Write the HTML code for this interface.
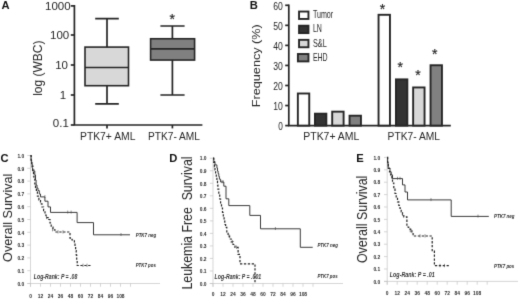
<!DOCTYPE html>
<html><head><meta charset="utf-8"><title>Figure</title>
<style>
html,body{margin:0;padding:0;background:#fff;}
body{width:520px;height:299px;overflow:hidden;}
svg{display:block;font-family:"Liberation Sans",sans-serif;}
.ax{stroke:#262626;stroke-width:1.7;fill:none;}
.bx{stroke:#262626;stroke-width:1.6;}
.t{fill:#262626;}
.pl{font-weight:bold;font-size:11.2px;fill:#111;}
.km{font-size:4.9px;font-weight:bold;fill:#2a2a2a;}
.kl{font-size:5px;font-weight:bold;font-style:italic;fill:#2a2a2a;}
.lr{font-size:6.8px;font-style:italic;font-weight:bold;fill:#333;}
.ka{stroke:#c4c4c4;stroke-width:0.7;fill:none;}
.so{stroke:#303030;stroke-width:0.95;fill:none;stroke-linejoin:miter;}
.da{stroke:#222;stroke-width:1.2;fill:none;stroke-dasharray:2.3 1.6;}
.ce{stroke:#444;stroke-width:0.6;fill:none;}
</style></head><body>
<svg width="520" height="299" viewBox="0 0 520 299">
<defs><filter id="sf" x="0" y="0" width="100%" height="100%" color-interpolation-filters="sRGB"><feConvolveMatrix order="3" kernelMatrix="0.011 0.084 0.011 0.084 0.62 0.084 0.011 0.084 0.011" divisor="1" edgeMode="duplicate" preserveAlpha="false"/></filter></defs>
<g filter="url(#sf)">
<rect width="520" height="299" fill="#fff"/>

<text class="pl" x="1.6" y="8.8">A</text>
<path class="ax" d="M74.4 5.1V125H202.4"/>
<path class="ax" d="M70.8 5.9H74.4"/>
<path class="ax" d="M70.8 35H74.4"/>
<path class="ax" d="M70.8 65H74.4"/>
<path class="ax" d="M70.8 95H74.4"/>
<path class="ax" d="M70.8 125H74.4"/>
<path class="ax" d="M107 125V128.4"/>
<path class="ax" d="M172.4 125V128.4"/>
<text class="t" font-size="11.5" text-anchor="end" x="70.6" y="9.9">1000</text>
<text class="t" font-size="11.5" text-anchor="end" x="69.2" y="38.8">100</text>
<text class="t" font-size="11.5" text-anchor="end" x="68" y="68.9">10</text>
<text class="t" font-size="11.5" text-anchor="end" x="66.2" y="98.8">1</text>
<text class="t" font-size="11.5" text-anchor="end" x="68.8" y="127">0.1</text>
<text class="t" font-size="12" text-anchor="middle" transform="translate(42.4 68.2) rotate(-90)">log (WBC)</text>
<path class="ax" d="M107 18.7V103.8M95.2 18.7H118.8M95.2 103.8H118.8"/>
<rect class="bx" x="85" y="47.1" width="43.5" height="38.6" fill="#d8d8d8"/>
<path class="ax" d="M85 67.5H128.5"/>
<path class="ax" d="M172.4 26V95M160.4 26H184.6M160.4 95H184.6"/>
<rect class="bx" x="150.6" y="38.75" width="44" height="21.3" fill="#808080"/>
<path class="ax" d="M150.6 48.9H194.6"/>
<text class="t" font-size="14" stroke="#262626" stroke-width="0.2" text-anchor="middle" x="172.3" y="23.8">*</text>
<text class="t" font-size="11" x="80" y="139.9" textLength="55.5" lengthAdjust="spacingAndGlyphs">PTK7+ AML</text>
<text class="t" font-size="11" x="148" y="139.9" textLength="52" lengthAdjust="spacingAndGlyphs">PTK7- AML</text>
<text class="pl" x="249.8" y="8.7">B</text>
<path class="ax" d="M288.8 4.6V125.6H450.8"/>
<path class="ax" d="M285.2 125.6H288.8"/>
<text class="t" font-size="11.6" text-anchor="end" x="282.8" y="129.9" textLength="4.6" lengthAdjust="spacingAndGlyphs">0</text>
<path class="ax" d="M285.2 105.55H288.8"/>
<text class="t" font-size="11.6" text-anchor="end" x="282.8" y="109.85" textLength="9.6" lengthAdjust="spacingAndGlyphs">10</text>
<path class="ax" d="M285.2 85.5H288.8"/>
<text class="t" font-size="11.6" text-anchor="end" x="282.8" y="89.8" textLength="9.6" lengthAdjust="spacingAndGlyphs">20</text>
<path class="ax" d="M285.2 65.45H288.8"/>
<text class="t" font-size="11.6" text-anchor="end" x="282.8" y="69.75" textLength="9.6" lengthAdjust="spacingAndGlyphs">30</text>
<path class="ax" d="M285.2 45.4H288.8"/>
<text class="t" font-size="11.6" text-anchor="end" x="282.8" y="49.7" textLength="9.6" lengthAdjust="spacingAndGlyphs">40</text>
<path class="ax" d="M285.2 25.35H288.8"/>
<text class="t" font-size="11.6" text-anchor="end" x="282.8" y="29.65" textLength="9.6" lengthAdjust="spacingAndGlyphs">50</text>
<path class="ax" d="M285.2 5.3H288.8"/>
<text class="t" font-size="11.6" text-anchor="end" x="282.8" y="9.6" textLength="9.6" lengthAdjust="spacingAndGlyphs">60</text>
<text class="t" font-size="11.3" text-anchor="middle" transform="translate(259.8 65.7) rotate(-90)" textLength="83" lengthAdjust="spacingAndGlyphs">Frequency (%)</text>
<rect x="297.85" y="93.5" width="11.4" height="32.1" fill="#ffffff" stroke="#262626" stroke-width="1.9"/>
<rect x="314.95" y="113.68" width="11.4" height="11.92" fill="#333333" stroke="#262626" stroke-width="1.9"/>
<rect x="332.2" y="111.66" width="11.4" height="13.94" fill="#d8d8d8" stroke="#262626" stroke-width="1.9"/>
<rect x="349.55" y="115.7" width="11.4" height="9.9" fill="#808080" stroke="#262626" stroke-width="1.9"/>
<rect x="378.55" y="14.8" width="11.4" height="110.8" fill="#ffffff" stroke="#262626" stroke-width="1.9"/>
<rect x="395.95" y="79.38" width="11.4" height="46.22" fill="#333333" stroke="#262626" stroke-width="1.9"/>
<rect x="413.15" y="87.45" width="11.4" height="38.15" fill="#d8d8d8" stroke="#262626" stroke-width="1.9"/>
<rect x="430.55" y="65.25" width="11.4" height="60.35" fill="#808080" stroke="#262626" stroke-width="1.9"/>
<text class="t" font-size="14" stroke="#262626" stroke-width="0.2" text-anchor="middle" x="382.4" y="14.1">*</text>
<text class="t" font-size="14" stroke="#262626" stroke-width="0.2" text-anchor="middle" x="400.2" y="72.39999999999999">*</text>
<text class="t" font-size="14" stroke="#262626" stroke-width="0.2" text-anchor="middle" x="417.9" y="80.3">*</text>
<text class="t" font-size="14" stroke="#262626" stroke-width="0.2" text-anchor="middle" x="434.7" y="58.800000000000004">*</text>
<rect x="299.05" y="11.55" width="9.4" height="7.4" fill="#ffffff" stroke="#262626" stroke-width="1.9"/>
<text class="t" font-size="10.4" x="312.9" y="18.3" textLength="20.3" lengthAdjust="spacingAndGlyphs">Tumor</text>
<rect x="299.05" y="25.7" width="9.4" height="7.4" fill="#333333" stroke="#262626" stroke-width="1.9"/>
<text class="t" font-size="10.4" x="312.9" y="32.45" textLength="9.0" lengthAdjust="spacingAndGlyphs">LN</text>
<rect x="299.05" y="39.85" width="9.4" height="7.4" fill="#d8d8d8" stroke="#262626" stroke-width="1.9"/>
<text class="t" font-size="10.4" x="312.9" y="46.6" textLength="13.8" lengthAdjust="spacingAndGlyphs">S&amp;L</text>
<rect x="297.9" y="54.0" width="10.55" height="7.4" fill="#808080" stroke="#262626" stroke-width="1.9"/>
<text class="t" font-size="10.4" x="312.9" y="60.75" textLength="14.8" lengthAdjust="spacingAndGlyphs">EHD</text>
<text class="t" font-size="11" x="303.3" y="139.9" textLength="56" lengthAdjust="spacingAndGlyphs">PTK7+ AML</text>
<text class="t" font-size="11" x="387.6" y="139.9" textLength="52.4" lengthAdjust="spacingAndGlyphs">PTK7- AML</text>
<text class="pl" x="0.5" y="162.1">C</text>
<text class="t" font-size="13.6" text-anchor="middle" transform="translate(12.0 217.8) rotate(-90)" textLength="88.2" lengthAdjust="spacingAndGlyphs" xml:space="preserve">Overall Survival</text>
<path class="ka" d="M30.5 155.0V286.8M27.3 283.5H160"/>
<path class="ka" d="M27.3 155.50H30.5"/>
<text class="km" text-anchor="end" x="24.2" y="157.70">1.0</text>
<path class="ka" d="M27.3 168.30H30.5"/>
<text class="km" text-anchor="end" x="24.2" y="170.50">0.9</text>
<path class="ka" d="M27.3 181.10H30.5"/>
<text class="km" text-anchor="end" x="24.2" y="183.30">0.8</text>
<path class="ka" d="M27.3 193.90H30.5"/>
<text class="km" text-anchor="end" x="24.2" y="196.10">0.7</text>
<path class="ka" d="M27.3 206.70H30.5"/>
<text class="km" text-anchor="end" x="24.2" y="208.90">0.6</text>
<path class="ka" d="M27.3 219.50H30.5"/>
<text class="km" text-anchor="end" x="24.2" y="221.70">0.5</text>
<path class="ka" d="M27.3 232.30H30.5"/>
<text class="km" text-anchor="end" x="24.2" y="234.50">0.4</text>
<path class="ka" d="M27.3 245.10H30.5"/>
<text class="km" text-anchor="end" x="24.2" y="247.30">0.3</text>
<path class="ka" d="M27.3 257.90H30.5"/>
<text class="km" text-anchor="end" x="24.2" y="260.10">0.2</text>
<path class="ka" d="M27.3 270.70H30.5"/>
<text class="km" text-anchor="end" x="24.2" y="272.90">0.1</text>
<path class="ka" d="M27.3 283.50H30.5"/>
<text class="km" text-anchor="end" x="24.2" y="285.70">0.0</text>
<path class="ka" d="M30.50 283.5V286.8"/>
<text class="km" text-anchor="middle" x="30.50" y="297.6">0</text>
<path class="ka" d="M40.50 283.5V286.8"/>
<text class="km" text-anchor="middle" x="40.50" y="297.6">12</text>
<path class="ka" d="M50.50 283.5V286.8"/>
<text class="km" text-anchor="middle" x="50.50" y="297.6">24</text>
<path class="ka" d="M60.50 283.5V286.8"/>
<text class="km" text-anchor="middle" x="60.50" y="297.6">36</text>
<path class="ka" d="M70.50 283.5V286.8"/>
<text class="km" text-anchor="middle" x="70.50" y="297.6">48</text>
<path class="ka" d="M80.50 283.5V286.8"/>
<text class="km" text-anchor="middle" x="80.50" y="297.6">60</text>
<path class="ka" d="M90.50 283.5V286.8"/>
<text class="km" text-anchor="middle" x="90.50" y="297.6">72</text>
<path class="ka" d="M100.50 283.5V286.8"/>
<text class="km" text-anchor="middle" x="100.50" y="297.6">84</text>
<path class="ka" d="M110.50 283.5V286.8"/>
<text class="km" text-anchor="middle" x="110.50" y="297.6">96</text>
<path class="ka" d="M120.50 283.5V286.8"/>
<text class="km" text-anchor="middle" x="120.50" y="297.6">108</text>
<path class="ka" d="M130.50 283.5V286.8"/>
<path class="so" d="M30.5 155.5H31.1V160.0H31.6V164.0H32.2V168.0H32.6V171.0H34.8V175.0H35.5V180.0H36.1V185.0H37.0V188.0H38.0V190.6H39.3V194.0H40.5V196.9H44.9V201.2H48.0V206.9H50.5V212.4H77.1V222.6H93.5V234.8H130.0V234.8"/>
<path class="da" d="M30.5 155.5H31.2V161.0H31.9V166.0H32.9V172.0H33.5V176.0H34.0V179.0H34.8V184.0H35.5V187.5H36.4V192.0H37.4V196.2H38.9V200.0H40.5V203.8H42.0V207.0H43.6V210.6H45.0V215.0H46.1V217.6H48.8V219.5H50.0V223.0H51.2V227.0H53.0V229.8H55.0V232.0H70.0V238.2H72.0V240.0H74.4V242.0H75.0V246.0H75.6V250.5H76.2V255.0H76.7V260.0H77.2V265.5H91.3V265.5"/>
<path class="ce" d="M34 169.2V172.2"/>
<path class="ce" d="M44.9 195.1V198.1"/>
<path class="ce" d="M67.75 210.6V213.6"/>
<path class="ce" d="M71.1 210.6V213.6"/>
<path class="ce" d="M121 233.0V236.0"/>
<path class="ce" d="M46.5 215.79999999999998V219.1"/>
<path class="ce" d="M52.5 228.0V231.3"/>
<path class="ce" d="M58 230.2V233.5"/>
<path class="ce" d="M63 230.2V233.5"/>
<path class="ce" d="M83 263.7V267.0"/>
<path class="ce" d="M87 263.7V267.0"/>
<text class="kl" x="135.7" y="236.6" textLength="20.5" lengthAdjust="spacingAndGlyphs">PTK7 neg</text>
<text class="kl" x="135.7" y="267.4" textLength="20.2" lengthAdjust="spacingAndGlyphs">PTK7 pos</text>
<text class="lr" x="33.8" y="278.8" textLength="43.5" lengthAdjust="spacingAndGlyphs">Log-Rank: P = .08</text>
<text class="pl" x="169.2" y="162.1">D</text>
<text class="t" font-size="14.3" text-anchor="middle" transform="translate(191.5 223) rotate(-90)" textLength="133" lengthAdjust="spacingAndGlyphs" xml:space="preserve">Leukemia Free  Survival</text>
<path class="ka" d="M213 157.75V286.8M209.8 283.5H343"/>
<path class="ka" d="M209.8 158.25H213"/>
<text class="km" text-anchor="end" x="206.5" y="160.45">1.0</text>
<path class="ka" d="M209.8 170.78H213"/>
<text class="km" text-anchor="end" x="206.5" y="172.97">0.9</text>
<path class="ka" d="M209.8 183.30H213"/>
<text class="km" text-anchor="end" x="206.5" y="185.50">0.8</text>
<path class="ka" d="M209.8 195.82H213"/>
<text class="km" text-anchor="end" x="206.5" y="198.02">0.7</text>
<path class="ka" d="M209.8 208.35H213"/>
<text class="km" text-anchor="end" x="206.5" y="210.55">0.6</text>
<path class="ka" d="M209.8 220.88H213"/>
<text class="km" text-anchor="end" x="206.5" y="223.07">0.5</text>
<path class="ka" d="M209.8 233.40H213"/>
<text class="km" text-anchor="end" x="206.5" y="235.60">0.4</text>
<path class="ka" d="M209.8 245.93H213"/>
<text class="km" text-anchor="end" x="206.5" y="248.12">0.3</text>
<path class="ka" d="M209.8 258.45H213"/>
<text class="km" text-anchor="end" x="206.5" y="260.65">0.2</text>
<path class="ka" d="M209.8 270.98H213"/>
<text class="km" text-anchor="end" x="206.5" y="273.18">0.1</text>
<path class="ka" d="M209.8 283.50H213"/>
<text class="km" text-anchor="end" x="206.5" y="285.70">0.0</text>
<path class="ka" d="M213.00 283.5V286.8"/>
<text class="km" text-anchor="middle" x="213.00" y="296">0</text>
<path class="ka" d="M223.00 283.5V286.8"/>
<text class="km" text-anchor="middle" x="223.00" y="296">12</text>
<path class="ka" d="M233.00 283.5V286.8"/>
<text class="km" text-anchor="middle" x="233.00" y="296">24</text>
<path class="ka" d="M243.00 283.5V286.8"/>
<text class="km" text-anchor="middle" x="243.00" y="296">36</text>
<path class="ka" d="M253.00 283.5V286.8"/>
<text class="km" text-anchor="middle" x="253.00" y="296">48</text>
<path class="ka" d="M263.00 283.5V286.8"/>
<text class="km" text-anchor="middle" x="263.00" y="296">60</text>
<path class="ka" d="M273.00 283.5V286.8"/>
<text class="km" text-anchor="middle" x="273.00" y="296">72</text>
<path class="ka" d="M283.00 283.5V286.8"/>
<text class="km" text-anchor="middle" x="283.00" y="296">84</text>
<path class="ka" d="M293.00 283.5V286.8"/>
<text class="km" text-anchor="middle" x="293.00" y="296">96</text>
<path class="ka" d="M303.00 283.5V286.8"/>
<text class="km" text-anchor="middle" x="303.00" y="296">108</text>
<path class="ka" d="M313.00 283.5V286.8"/>
<path class="so" d="M213.0 158.2H213.8V161.5H215.0V164.9H216.9V168.0H217.5V171.0H218.1V173.6H218.8V176.5H219.4V179.2H220.6V182.0H223.8V186.2H226.0V198.8H228.8V205.6H249.8V215.4H260.5V228.8H300.3V247.3H312.7V247.3"/>
<path class="da" d="M213.0 158.2H213.7V162.5H214.4V166.8H215.0V170.0H215.6V173.0H216.3V177.0H216.9V181.1H217.5V185.0H217.9V189.2H218.8V194.4H219.7V199.0H220.6V203.8H221.5V208.0H222.5V212.5H223.3V217.0H224.1V221.2H224.8V224.5H225.6V227.4H226.8V232.0H228.1V236.1H229.6V239.0H231.2V241.8H233.0V244.5H235.0V247.4H238.1V254.4H240.0V263.8H255.0V283.2"/>
<path class="ce" d="M222 180.2V183.2"/>
<path class="ce" d="M223.1 180.2V183.2"/>
<path class="ce" d="M275.4 227.0V230.0"/>
<path class="ce" d="M229 234.29999999999998V237.6"/>
<path class="ce" d="M232.3 239.95V243.25"/>
<path class="ce" d="M236.5 245.6V248.9"/>
<text class="kl" x="317.4" y="247.20000000000002" textLength="20.5" lengthAdjust="spacingAndGlyphs">PTK7 neg</text>
<text class="kl" x="317.4" y="277.9" textLength="20.2" lengthAdjust="spacingAndGlyphs">PTK7 pos</text>
<text class="lr" x="214.6" y="278.5" textLength="46.6" lengthAdjust="spacingAndGlyphs">Log-Rank: P = .001</text>
<text class="pl" x="356.2" y="162.2">E</text>
<text class="t" font-size="14.3" text-anchor="middle" transform="translate(367 219.35) rotate(-90)" textLength="87.5" lengthAdjust="spacingAndGlyphs" xml:space="preserve">Overall Survival</text>
<path class="ka" d="M387.2 156.9V284.7M384.0 281.4H518"/>
<path class="ka" d="M384.0 157.40H387.2"/>
<text class="km" text-anchor="end" x="380.2" y="159.60">1.0</text>
<path class="ka" d="M384.0 169.80H387.2"/>
<text class="km" text-anchor="end" x="380.2" y="172.00">0.9</text>
<path class="ka" d="M384.0 182.20H387.2"/>
<text class="km" text-anchor="end" x="380.2" y="184.40">0.8</text>
<path class="ka" d="M384.0 194.60H387.2"/>
<text class="km" text-anchor="end" x="380.2" y="196.80">0.7</text>
<path class="ka" d="M384.0 207.00H387.2"/>
<text class="km" text-anchor="end" x="380.2" y="209.20">0.6</text>
<path class="ka" d="M384.0 219.40H387.2"/>
<text class="km" text-anchor="end" x="380.2" y="221.60">0.5</text>
<path class="ka" d="M384.0 231.80H387.2"/>
<text class="km" text-anchor="end" x="380.2" y="234.00">0.4</text>
<path class="ka" d="M384.0 244.20H387.2"/>
<text class="km" text-anchor="end" x="380.2" y="246.40">0.3</text>
<path class="ka" d="M384.0 256.60H387.2"/>
<text class="km" text-anchor="end" x="380.2" y="258.80">0.2</text>
<path class="ka" d="M384.0 269.00H387.2"/>
<text class="km" text-anchor="end" x="380.2" y="271.20">0.1</text>
<path class="ka" d="M384.0 281.40H387.2"/>
<text class="km" text-anchor="end" x="380.2" y="283.60">0.0</text>
<path class="ka" d="M387.20 281.4V284.7"/>
<text class="km" text-anchor="middle" x="387.20" y="294.9">0</text>
<path class="ka" d="M397.20 281.4V284.7"/>
<text class="km" text-anchor="middle" x="397.20" y="294.9">12</text>
<path class="ka" d="M407.20 281.4V284.7"/>
<text class="km" text-anchor="middle" x="407.20" y="294.9">24</text>
<path class="ka" d="M417.20 281.4V284.7"/>
<text class="km" text-anchor="middle" x="417.20" y="294.9">36</text>
<path class="ka" d="M427.20 281.4V284.7"/>
<text class="km" text-anchor="middle" x="427.20" y="294.9">48</text>
<path class="ka" d="M437.20 281.4V284.7"/>
<text class="km" text-anchor="middle" x="437.20" y="294.9">60</text>
<path class="ka" d="M447.20 281.4V284.7"/>
<text class="km" text-anchor="middle" x="447.20" y="294.9">72</text>
<path class="ka" d="M457.20 281.4V284.7"/>
<text class="km" text-anchor="middle" x="457.20" y="294.9">84</text>
<path class="ka" d="M467.20 281.4V284.7"/>
<text class="km" text-anchor="middle" x="467.20" y="294.9">96</text>
<path class="ka" d="M477.20 281.4V284.7"/>
<text class="km" text-anchor="middle" x="477.20" y="294.9">108</text>
<path class="ka" d="M487.20 281.4V284.7"/>
<path class="so" d="M387.2 157.4H387.6V162.0H388.1V168.0H390.0V171.8H391.2V174.9H392.5V178.6H402.5V184.9H405.0V192.0H407.5V199.9H451.2V216.4H488.8V216.4"/>
<path class="da" d="M387.2 157.4H387.7V163.0H388.3V168.5H389.5V172.0H390.7V175.0H391.9V179.0H392.5V183.0H393.8V189.2H395.0V193.5H396.2V197.5H397.5V201.8H398.8V205.5H400.0V208.5H401.2V211.8H402.5V214.5H403.8V216.8H406.9V219.0H406.9V227.0H408.7V229.0H410.6V230.8H411.9V233.5H413.1V236.0H432.2V251.2H434.4V265.7H448.8V265.7"/>
<path class="ce" d="M397.5 176.79999999999998V179.79999999999998"/>
<path class="ce" d="M400 176.79999999999998V179.79999999999998"/>
<path class="ce" d="M431 198.1V201.1"/>
<path class="ce" d="M478 214.6V217.6"/>
<path class="ce" d="M402.5 212.7V216.0"/>
<path class="ce" d="M410.2 228.95V232.25"/>
<path class="ce" d="M411 228.95V232.25"/>
<path class="ce" d="M420 234.2V237.5"/>
<path class="ce" d="M425 234.2V237.5"/>
<path class="ce" d="M440 263.9V267.2"/>
<path class="ce" d="M444.5 263.9V267.2"/>
<text class="kl" x="494" y="218.4" textLength="20.5" lengthAdjust="spacingAndGlyphs">PTK7 neg</text>
<text class="kl" x="494" y="267.9" textLength="20.2" lengthAdjust="spacingAndGlyphs">PTK7 pos</text>
<text class="lr" x="389.8" y="276.8" textLength="45" lengthAdjust="spacingAndGlyphs">Log-Rank: P = .01</text>
</g></svg></body></html>
